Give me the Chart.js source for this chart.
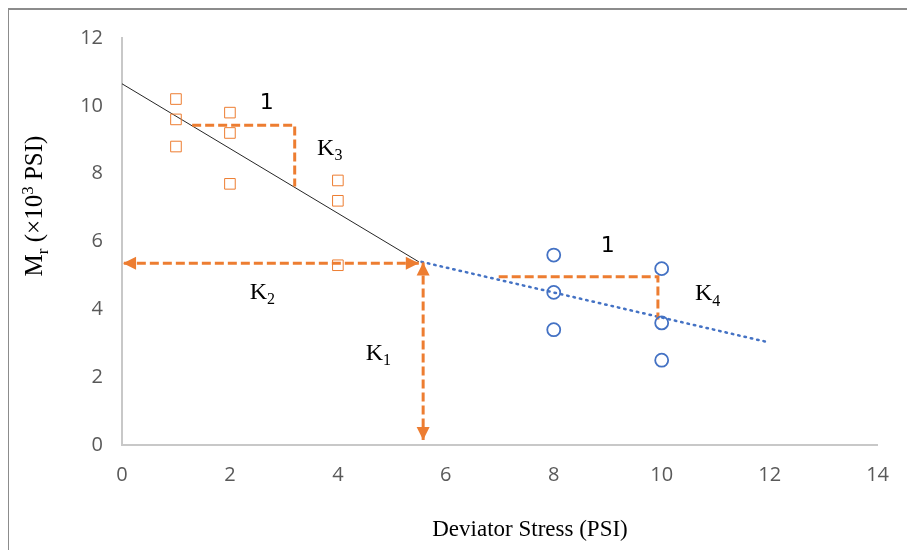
<!DOCTYPE html>
<html>
<head>
<meta charset="utf-8">
<script src="https://cdn.jsdelivr.net/npm/chart.js@4.4.1/dist/chart.umd.min.js"></script>
<style>
  html, body { margin: 0; padding: 0; background: #fff; overflow: hidden; }
  #wrap { position: relative; width: 907px; height: 550px; }
  #frame { position: absolute; left: 8px; top: 8px; width: 960px; height: 600px;
           border-left: 1px solid #8c8c8c; border-top: 2px solid #8c8c8c; }
  canvas { position: absolute; left: 0; top: 0; }
</style>
</head>
<body>
<div id="wrap">
  <div id="frame"></div>
  <canvas id="chart" width="907" height="550"></canvas>
</div>
<script>
// measured points
const squareX = [1, 1, 1, 2, 2, 2, 4, 4, 4];
const squareY = [10.2, 9.6, 8.8, 9.8, 9.2, 7.7, 7.8, 7.2, 5.3];
const circleX = [8, 8, 8, 10, 10, 10];
const circleY = [5.6, 4.5, 3.4, 5.2, 3.6, 2.5];

// trend lines
const fitLeftX = [0, 5.5];
const fitLeftY = [10.65, 5.4];
const fitRightX = [5.55, 12];
const fitRightY = [5.4, 3.02];

// slope triangles and K1/K2 arrows
const tri1X = [1.3, 3.2, 3.2];
const tri1Y = [9.43, 9.43, 7.62];
const tri2X = [6.98, 9.93, 9.93];
const tri2Y = [4.96, 4.96, 3.7];
const k2ArrowX = [5.5, 0.02];
const k2ArrowY = [5.36, 5.36];
const k1ArrowX = [5.58, 5.58];
const k1ArrowY = [5.38, 0.15];

// annotation labels ("_" = subscript of next char)
const annText = ['1', 'K_3', 'K_2', 'K_1', '1', 'K_4'];
const annX = [2.68, 3.85, 2.6, 4.75, 9.0, 10.85];
const annY = [10.17, 8.8, 4.55, 2.75, 5.97, 4.5];

const xTicks = [0, 2, 4, 6, 8, 10, 12, 14];
const yTicks = [0, 2, 4, 6, 8, 10, 12];

const ORANGE = '#ED7D31';
const BLUE = '#4472C4';

function pts(xs, ys) {
    return xs.map((x, i) => ({ x: x, y: ys[i] }));
}

function drawRuns(ctx, runs, x, y, size, family, align) {
    // runs: [{t, k}] k = 'n' | 'sub' | 'sup'
    const fonts = { n: size + 'px ' + family, sub: Math.round(size * 0.68) + 'px ' + family, sup: Math.round(size * 0.68) + 'px ' + family };
    let total = 0;
    runs.forEach(r => { ctx.font = fonts[r.k]; total += ctx.measureText(r.t).width; });
    let cx = align === 'center' ? x - total / 2 : x;
    ctx.textAlign = 'left';
    ctx.textBaseline = 'alphabetic';
    runs.forEach(r => {
        ctx.font = fonts[r.k];
        let dy = 0;
        if (r.k === 'sub') dy = size * 0.22;
        if (r.k === 'sup') dy = -size * 0.38;
        ctx.fillText(r.t, cx, y + dy);
        cx += ctx.measureText(r.t).width;
    });
}

function parseLabel(s) {
    const runs = [];
    for (let i = 0; i < s.length; i++) {
        if (s[i] === '_') { runs.push({ t: s[i + 1], k: 'sub' }); i++; }
        else runs.push({ t: s[i], k: 'n' });
    }
    return runs;
}

const arrowPlugin = {
    id: 'arrows',
    afterDatasetsDraw(chart) {
        const ctx = chart.ctx;
        chart.data.datasets.forEach((ds, i) => {
            if (!ds.arrowHeads) return;
            const pts = chart.getDatasetMeta(i).data;
            const a = pts[0], b = pts[pts.length - 1];
            const head = (tip, from) => {
                const ang = Math.atan2(tip.y - from.y, tip.x - from.x);
                const len = 13, half = 6.5;
                ctx.beginPath();
                ctx.moveTo(tip.x, tip.y);
                ctx.lineTo(tip.x - len * Math.cos(ang) + half * Math.sin(ang), tip.y - len * Math.sin(ang) - half * Math.cos(ang));
                ctx.lineTo(tip.x - len * Math.cos(ang) - half * Math.sin(ang), tip.y - len * Math.sin(ang) + half * Math.cos(ang));
                ctx.closePath();
                ctx.fill();
            };
            ctx.save();
            ctx.fillStyle = ORANGE;
            head(a, b);
            head(b, a);
            ctx.restore();
        });
    }
};

const textPlugin = {
    id: 'texts',
    afterDraw(chart) {
        const ctx = chart.ctx;
        const xs = chart.scales.x, ys = chart.scales.y;
        ctx.save();
        ctx.fillStyle = '#000';
        annText.forEach((t, i) => {
            const px = xs.getPixelForValue(annX[i]);
            const py = ys.getPixelForValue(annY[i]);
            if (t.indexOf('_') >= 0) {
                drawRuns(ctx, parseLabel(t), px, py + 8, 24, '"Liberation Serif", serif', 'center');
            } else {
                drawRuns(ctx, [{ t: t, k: 'n' }], px, py + 9, 22, '"DejaVu Sans", sans-serif', 'center');
            }
        });
        // axis titles
        drawRuns(ctx, [{ t: 'Deviator Stress (PSI)', k: 'n' }], 530, 536, 23, '"Liberation Serif", serif', 'center');
        ctx.translate(42, 206);
        ctx.rotate(-Math.PI / 2);
        drawRuns(ctx, [
            { t: 'M', k: 'n' }, { t: 'r', k: 'sub' }, { t: ' (×10', k: 'n' },
            { t: '3', k: 'sup' }, { t: ' PSI)', k: 'n' }
        ], 0, 0, 25, '"Liberation Serif", serif', 'center');
        ctx.restore();
    }
};

const tickFont = { family: '"Open Sans", sans-serif', size: 20 };

new Chart(document.getElementById('chart'), {
    type: 'scatter',
    data: {
        datasets: [
            {
                label: 'fitLeft', data: pts(fitLeftX, fitLeftY), showLine: true,
                borderColor: '#262626', borderWidth: 1, pointRadius: 0, order: 5
            },
            {
                label: 'fitRight', data: pts(fitRightX, fitRightY), showLine: true,
                borderColor: BLUE, borderWidth: 2.5, borderDash: [1.5, 5], borderCapStyle: 'round',
                pointRadius: 0, order: 5
            },
            {
                label: 'tri1', data: pts(tri1X, tri1Y), showLine: true,
                borderColor: ORANGE, borderWidth: 3, borderDash: [9, 4], pointRadius: 0, order: 4
            },
            {
                label: 'tri2', data: pts(tri2X, tri2Y), showLine: true,
                borderColor: ORANGE, borderWidth: 3, borderDash: [9, 4], pointRadius: 0, order: 4
            },
            {
                label: 'K2', data: pts(k2ArrowX, k2ArrowY), showLine: true, arrowHeads: true,
                borderColor: ORANGE, borderWidth: 3, borderDash: [9, 4], pointRadius: 0, order: 4
            },
            {
                label: 'K1', data: pts(k1ArrowX, k1ArrowY), showLine: true, arrowHeads: true,
                borderColor: ORANGE, borderWidth: 3, borderDash: [9, 4], pointRadius: 0, order: 4
            },
            {
                label: 'squares', data: pts(squareX, squareY), pointStyle: 'rect',
                pointRadius: 7.5, borderColor: ORANGE, borderWidth: 1, backgroundColor: 'rgba(0,0,0,0)', order: 1
            },
            {
                label: 'circles', data: pts(circleX, circleY), pointStyle: 'circle',
                pointRadius: 6.5, borderColor: BLUE, borderWidth: 1.8, backgroundColor: 'rgba(0,0,0,0)', order: 1
            }
        ]
    },
    options: {
        responsive: false,
        animation: false,
        devicePixelRatio: 1,
        layout: { padding: { left: 0, top: 38, right: 24, bottom: 0 } },
        plugins: { legend: { display: false }, tooltip: { enabled: false } },
        scales: {
            x: {
                type: 'linear', min: 0, max: 14,
                afterBuildTicks: s => { s.ticks = xTicks.map(v => ({ value: v })); },
                afterFit: s => { s.height = 105; },
                grid: { display: false, drawTicks: false },
                border: { color: '#c8c8c8', width: 2 },
                ticks: { color: '#595959', font: tickFont, padding: 18 }
            },
            y: {
                type: 'linear', min: 0, max: 12,
                afterBuildTicks: s => { s.ticks = yTicks.map(v => ({ value: v })); },
                afterFit: s => { s.width = 122; },
                grid: { display: false, drawTicks: false },
                border: { color: '#c8c8c8', width: 2 },
                ticks: { color: '#595959', font: tickFont, padding: 19 }
            }
        }
    },
    plugins: [arrowPlugin, textPlugin]
});
</script>
</body>
</html>
